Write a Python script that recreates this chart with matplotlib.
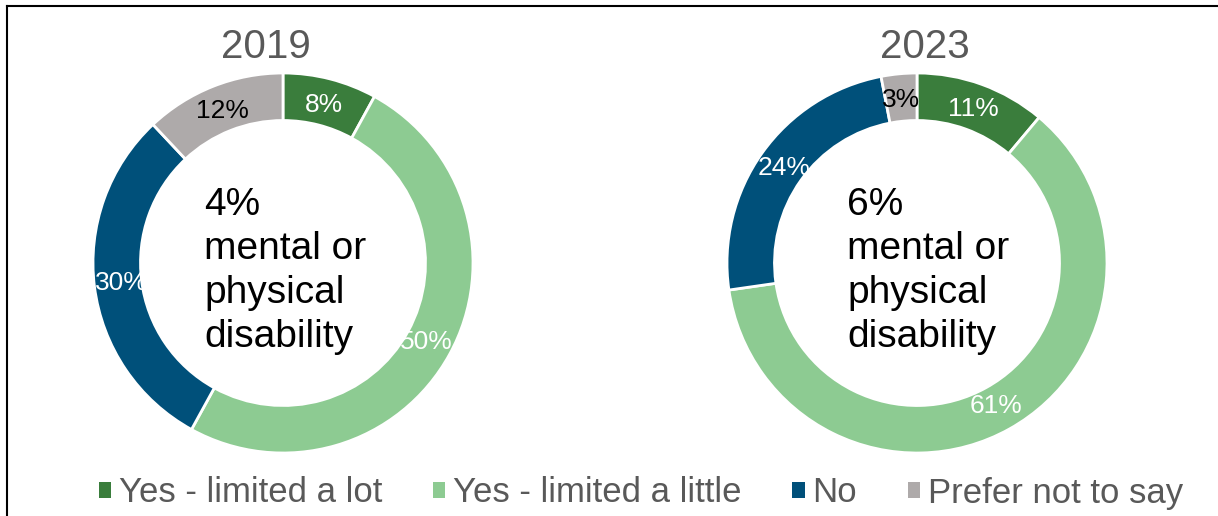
import matplotlib.pyplot as plt
from matplotlib.patches import Patch
from matplotlib.lines import Line2D

plt.rcParams['font.family'] = ['Liberation Sans', 'DejaVu Sans']

categories = ["Yes - limited a lot", "Yes - limited a little", "No", "Prefer not to say"]
years = ["2019", "2023"]
values_2019 = [8, 50, 30, 12]
values_2023 = [11, 61, 24, 3]
disability_share = ["4%", "6%"]

colors = ["#3A7D3C", "#8DCB92", "#00507A", "#AEAAAA"]
label_colors = ["white", "white", "white", "black"]

W, H = 1218, 516
fig = plt.figure(figsize=(W / 100, H / 100), dpi=100)


def frac(x, y):
    # pixel position (from top-left) -> figure fraction
    return x / W, 1 - y / H


def donut(cx, cy, r, values, title, title_x, share, text_x):
    left, top = frac(cx - r, cy - r)
    ax = fig.add_axes([left, top - 2 * r / H, 2 * r / W, 2 * r / H])
    wedges, _, autotexts = ax.pie(
        values, colors=colors, startangle=90, counterclock=False,
        radius=1, autopct="%1.0f%%", pctdistance=0.86,
        wedgeprops=dict(width=0.25, edgecolor="white", linewidth=2),
        textprops=dict(fontsize=19),
    )
    for t, v, c in zip(autotexts, values, label_colors):
        t.set_text(f"{v}%")
        t.set_color(c)
    ax.set_xlim(-1, 1)
    ax.set_ylim(-1, 1)
    ax.set_aspect("equal")
    ax.axis("off")

    tx, ty = frac(title_x, 47)
    fig.text(tx, ty, title, ha="center", va="center", fontsize=29, color="#595959")

    mx, my = frac(text_x, 271)
    fig.text(mx, my, f"{share}\nmental or\nphysical\ndisability",
             ha="left", va="center", fontsize=28, color="black", linespacing=1.28)


donut(283, 263, 190, values_2019, years[0], 266, disability_share[0], 204)
donut(917, 263, 190, values_2023, years[1], 925, disability_share[1], 847)

# outer frame (top and left edges only show)
x0, y0 = frac(7, 6)
fig.add_artist(Line2D([x0, 1], [y0, y0], color="black", linewidth=1.5))
fig.add_artist(Line2D([x0, x0], [0, y0], color="black", linewidth=1.5))

handles = [Patch(facecolor=c, edgecolor="none") for c in colors]
leg = fig.legend(
    handles, categories, loc="center", bbox_to_anchor=frac(641, 493),
    ncol=4, frameon=False, fontsize=25, handlelength=0.35, handleheight=0.35,
    handletextpad=0.23, columnspacing=1.46, borderpad=0, borderaxespad=0,
)
for t in leg.get_texts():
    t.set_color("#595959")

fig.savefig("out.png", dpi=100)
